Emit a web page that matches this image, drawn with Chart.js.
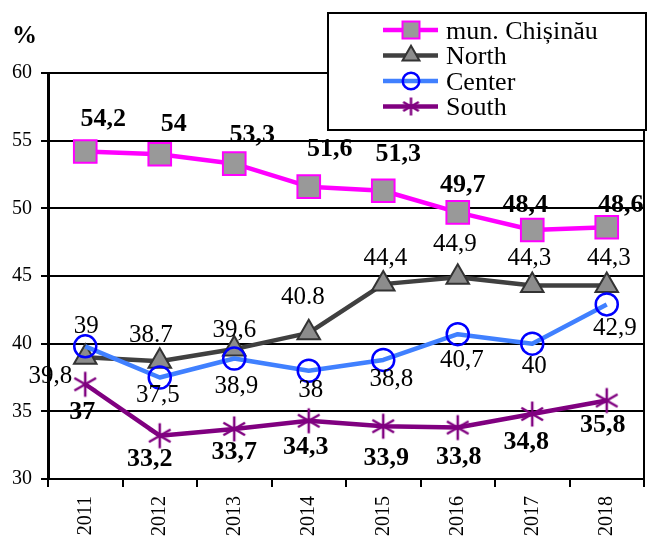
<!DOCTYPE html>
<html>
<head>
<meta charset="utf-8">
<script src="https://cdn.jsdelivr.net/npm/chart.js@4.4.1/dist/chart.umd.min.js"></script>
<style>
  body { margin: 0; background: #fff; }
</style>
</head>
<body>
<canvas id="chart" width="662" height="537"></canvas>
<script>
// ---------- Data ----------
const years = ["2011", "2012", "2013", "2014", "2015", "2016", "2017", "2018"];
const seriesNames = ["mun. Chișinău", "North", "Center", "South"];

const chisinau = [54.2, 54, 53.3, 51.6, 51.3, 49.7, 48.4, 48.6];
const north = [39, 38.7, 39.6, 40.8, 44.4, 44.9, 44.3, 44.3];
const center = [39.8, 37.5, 38.9, 38, 38.8, 40.7, 40, 42.9];
const south = [37, 33.2, 33.7, 34.3, 33.9, 33.8, 34.8, 35.8];

const chisinauLabels = ["54,2", "54", "53,3", "51,6", "51,3", "49,7", "48,4", "48,6"];
const northLabels = ["39", "38.7", "39,6", "40.8", "44,4", "44,9", "44,3", "44,3"];
const centerLabels = ["39,8", "37,5", "38,9", "38", "38,8", "40,7", "40", "42,9"];
const southLabels = ["37", "33,2", "33,7", "34,3", "33,9", "33,8", "34,8", "35,8"];

const yMin = 30, yMax = 60, yStep = 5;

// ---------- Label placement (px offsets from each point) ----------
const labelOffsets = [
  [[18, -32], [14, -30], [18, -28], [21, -37], [15, -36], [5, -27], [-7, -25], [14, -22]],
  [[1, -31], [-9, -26], [0, -19], [-6, -35], [2, -26], [-3, -33], [-3, -27], [2, -27]],
  [[-35, 30], [-2, 18], [2, 28], [2, 20], [8, 20], [4, 26], [2, 23], [8, 24]],
  [[-3, 28], [-10, 24], [0, 23], [-3, 26], [3, 32], [1, 30], [-6, 28], [-4, 25]],
];
const serif = "'Liberation Serif', 'Times New Roman', serif";

// six-armed asterisk marker for the South series
function asterisk(r, color, lw) {
  const c = document.createElement("canvas");
  const s = Math.ceil(r * 2 + lw * 2);
  c.width = s; c.height = s;
  const g = c.getContext("2d");
  g.strokeStyle = color;
  g.lineWidth = lw;
  g.lineCap = "butt";
  [90, 30, 150].forEach((deg) => {
    const a = deg * Math.PI / 180;
    g.beginPath();
    g.moveTo(s / 2 - Math.cos(a) * r, s / 2 - Math.sin(a) * r);
    g.lineTo(s / 2 + Math.cos(a) * r, s / 2 + Math.sin(a) * r);
    g.stroke();
  });
  return c;
}
const starBig = asterisk(12.5, "#800080", 2.5);
const starSmall = asterisk(9, "#800080", 2.5);

// ---------- Plugins ----------
const pointLabels = {
  id: "pointLabels",
  afterDatasetsDraw(chart) {
    const ctx = chart.ctx;
    ctx.save();
    ctx.textAlign = "center";
    ctx.textBaseline = "middle";
    ctx.fillStyle = "#000";
    chart.data.datasets.forEach((ds, i) => {
      const meta = chart.getDatasetMeta(i);
      ctx.font = ds.labelBold ? "bold 26px " + serif : "25px " + serif;
      meta.data.forEach((pt, j) => {
        const [dx, dy] = labelOffsets[ds.labelIndex][j];
        ctx.fillText(ds.labels[j], pt.x + dx, pt.y + dy);
      });
    });
    ctx.restore();
  },
};

const frame = {
  id: "frame",
  afterDraw(chart) {
    const ctx = chart.ctx;
    const a = chart.chartArea;
    ctx.save();
    // right border of the plot
    ctx.strokeStyle = "#000";
    ctx.lineWidth = 2;
    ctx.beginPath();
    ctx.moveTo(a.right, a.top);
    ctx.lineTo(a.right, a.bottom);
    ctx.stroke();

    // unit label
    ctx.fillStyle = "#000";
    ctx.font = "bold 25px " + serif;
    ctx.textBaseline = "middle";
    ctx.fillText("%", 12, 37);

    // legend box
    ctx.fillStyle = "#fff";
    ctx.fillRect(328, 13, 318, 117);
    ctx.strokeRect(328, 13, 318, 117);

    const rows = [30, 55.5, 81, 106.5];
    rows.forEach((y, k) => {
      const ds = chart.data.datasets.find((d) => d.labelIndex === k);
      ctx.strokeStyle = ds.borderColor;
      ctx.lineWidth = 4.5;
      ctx.beginPath();
      ctx.moveTo(383, y);
      ctx.lineTo(438, y);
      ctx.stroke();
      ctx.fillStyle = ds.pointBackgroundColor;
      ctx.strokeStyle = ds.pointBorderColor;
      ctx.lineWidth = ds.pointBorderWidth;
      Chart.helpers.drawPoint(ctx, {
        pointStyle: ds.legendStyle || ds.pointStyle,
        radius: ds.pointRadius * 0.75,
        rotation: 0,
        borderWidth: ds.pointBorderWidth,
      }, 411, y);
      ctx.fillStyle = "#000";
      ctx.font = "26px " + serif;
      ctx.textBaseline = "middle";
      ctx.fillText(seriesNames[k], 446, y + 2);
    });
    ctx.restore();
  },
};

// ---------- Chart ----------
new Chart(document.getElementById("chart"), {
  type: "line",
  data: {
    labels: years,
    datasets: [
      {
        label: seriesNames[0], data: chisinau, labels: chisinauLabels, labelIndex: 0, labelBold: true,
        borderColor: "#FF00FF", borderWidth: 4.5,
        pointStyle: "rect", pointRadius: 16, pointBackgroundColor: "#999999",
        pointBorderColor: "#FF00FF", pointBorderWidth: 2, order: 3,
      },
      {
        label: seriesNames[1], data: north, labels: northLabels, labelIndex: 1, labelBold: false,
        borderColor: "#404040", borderWidth: 4.5,
        pointStyle: "triangle", pointRadius: 13, pointBackgroundColor: "#8c8c8c",
        pointBorderColor: "#333333", pointBorderWidth: 2, order: 2,
      },
      {
        label: seriesNames[2], data: center, labels: centerLabels, labelIndex: 2, labelBold: false,
        borderColor: "#4080FF", borderWidth: 4.5,
        pointStyle: "circle", pointRadius: 11, pointBackgroundColor: "rgba(0,0,0,0)",
        pointBorderColor: "#0000FF", pointBorderWidth: 2.5, order: 1,
      },
      {
        label: seriesNames[3], data: south, labels: southLabels, labelIndex: 3, labelBold: true,
        borderColor: "#800080", borderWidth: 4.5,
        pointStyle: starBig, legendStyle: starSmall, pointRadius: 12, pointBackgroundColor: "#800080",
        pointBorderColor: "#800080", pointBorderWidth: 2.5, order: 0,
      },
    ],
  },
  options: {
    responsive: false,
    animation: false,
    devicePixelRatio: 1,
    layout: { padding: { top: 73, right: 2, left: 0, bottom: 0 } },
    plugins: { legend: { display: false }, tooltip: { enabled: false } },
    elements: { line: { tension: 0, borderJoinStyle: "round" } },
    scales: {
      x: {
        offset: true,
        afterFit: (s) => { s.height = 58; },
        grid: { offset: true, drawOnChartArea: false, color: "#000", lineWidth: 2, tickLength: 8 },
        border: { color: "#000", width: 2 },
        ticks: { color: "#000", font: { family: serif, size: 20 }, minRotation: 90, maxRotation: 90, padding: 9 },
      },
      y: {
        min: yMin, max: yMax,
        afterFit: (s) => { s.width = 48; },
        grid: { color: "#000", lineWidth: 2, tickLength: 7 },
        border: { color: "#000", width: 3 },
        ticks: { stepSize: yStep, color: "#000", font: { family: serif, size: 20 }, padding: 9 },
      },
    },
  },
  plugins: [pointLabels, frame],
});
</script>
</body>
</html>
